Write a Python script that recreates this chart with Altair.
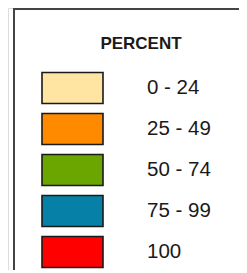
import altair as alt
import pandas as pd

title = "PERCENT"
labels = ["0 - 24", "25 - 49", "50 - 74", "75 - 99", "100"]
colors = ["#FFE4A2", "#FF8A00", "#6BA500", "#0780A8", "#FF0000"]

df = pd.DataFrame({"label": labels, "color": colors})

yscale = alt.Scale(type="point", domain=labels, range=[80, 244], padding=0)

swatches = alt.Chart(df).mark_point(
    shape="M-1,-0.508H1V0.508H-1Z", size=3721, filled=True,
    stroke="#1a1a1a", strokeWidth=1.6, opacity=1
).encode(
    x=alt.value(64.5),
    y=alt.Y("label:N", scale=yscale, axis=None),
    fill=alt.Color("color:N", scale=None, legend=None),
)

texts = alt.Chart(df).mark_text(
    align="left", baseline="middle", fontSize=20.5, font="Liberation Sans", color="#1a1a1a"
).encode(
    x=alt.value(139),
    y=alt.Y("label:N", scale=yscale, axis=None),
    text="label:N",
)

head = alt.Chart(pd.DataFrame({"t": [title]})).mark_text(
    align="center", baseline="middle", fontSize=17, fontWeight="bold",
    font="Liberation Sans", color="#1a1a1a"
).encode(x=alt.value(133), y=alt.value(36), text="t:N")

left = alt.Chart(pd.DataFrame({"a": [0]})).mark_rule(color="#444444", strokeWidth=2).encode(
    x=alt.value(6), y=alt.value(0.5), y2=alt.value(262)
)
top = alt.Chart(pd.DataFrame({"a": [0]})).mark_rule(color="#444444", strokeWidth=2).encode(
    x=alt.value(5), x2=alt.value(231), y=alt.value(1)
)

chart = alt.layer(left, top, head, swatches, texts).properties(
    width=231, height=262, padding=0, autosize=alt.AutoSizeParams(type="none")
).configure_view(strokeWidth=0).configure(background="white")

chart.save("out.html", embed_options={"renderer": "svg", "actions": False})
